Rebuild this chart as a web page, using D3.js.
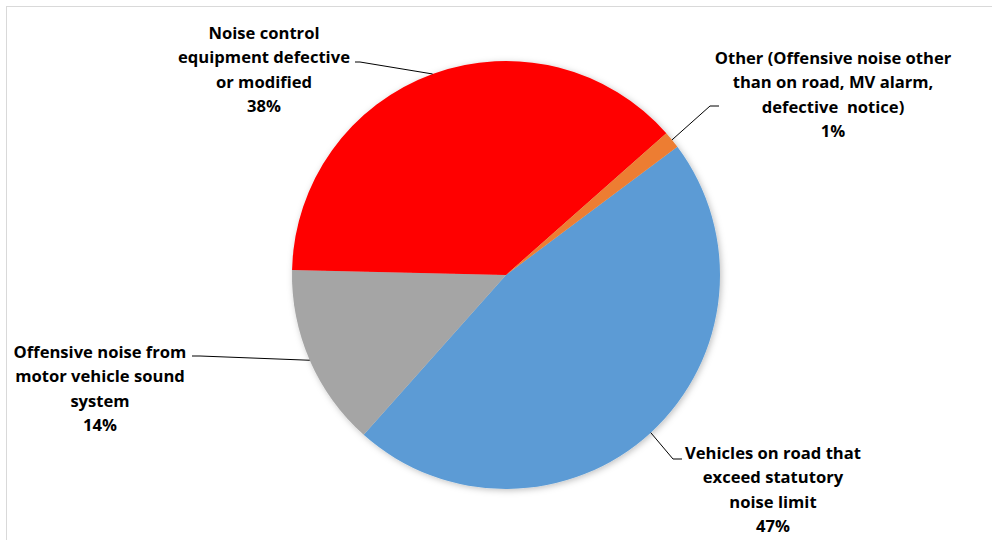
<!DOCTYPE html>
<html>
<head>
<meta charset="utf-8">
<script src="https://cdn.jsdelivr.net/npm/d3@7"></script>
<style>
  body { margin: 0; background: #fff; }
  text { font-family: "Open Sans", Lato, sans-serif; font-weight: 700; fill: #000; white-space: pre; }
</style>
</head>
<body>
<div id="chart"></div>
<script>
// data, clockwise from the first slice
const categories = [
  ["Vehicles on road that", "exceed statutory", "noise limit"],
  ["Offensive noise from", "motor vehicle sound", "system"],
  ["Noise control", "equipment defective", "or modified"],
  ["Other (Offensive noise other", "than on road, MV alarm,", "defective  notice)"]
];
const values = [46.8, 13.8, 38.1, 1.3];
const colors = ["#5B9BD5", "#A5A5A5", "#FF0000", "#ED7D31"];

// label placement (centre x, first line y) and leader elbows
const labelPos = [[773, 453], [100, 352], [264, 33], [833, 58]];
const elbows = [[[673, 459], [682, 459]], [[200, 356], [192, 356]], [[360, 62], [355, 62]], [[710, 106], [719, 106]]];

const width = 992, height = 540;
const cx = 506, cy = 275, r = 214;
const startDeg = 53.2;

const svg = d3.select('#chart').append('svg')
  .attr('width', width)
  .attr('height', height);

// chart frame
svg.append('rect')
  .attr('x', 6.5).attr('y', 6.5)
  .attr('width', width).attr('height', height)
  .attr('fill', 'none')
  .attr('stroke', '#d9d9d9');

const defs = svg.append('defs');
const f = defs.append('filter').attr('id', 'shadow')
  .attr('x', '-10%').attr('y', '-10%').attr('width', '120%').attr('height', '120%');
f.append('feDropShadow')
  .attr('dx', 1.5).attr('dy', 1.5)
  .attr('stdDeviation', 3)
  .attr('flood-color', '#000')
  .attr('flood-opacity', 0.25);

const pie = d3.pie()
  .sort(null)
  .value(d => d)
  .startAngle(startDeg * Math.PI / 180)
  .endAngle(startDeg * Math.PI / 180 + 2 * Math.PI);

const arcs = pie(values);
const arc = d3.arc().innerRadius(0).outerRadius(r);

const g = svg.append('g').attr('transform', 'translate(' + cx + ',' + cy + ')');

g.append('g').attr('filter', 'url(#shadow)')
  .selectAll('path')
  .data(arcs)
  .enter().append('path')
  .attr('d', arc)
  .attr('fill', (d, i) => colors[i]);

// leader lines
const line = d3.line();
svg.append('g')
  .selectAll('path')
  .data(arcs)
  .enter().append('path')
  .attr('fill', 'none')
  .attr('stroke', '#000')
  .attr('stroke-width', 1)
  .attr('d', (d, i) => {
    const a = (d.startAngle + d.endAngle) / 2;
    const p = [cx + r * Math.sin(a), cy - r * Math.cos(a)];
    return line([p].concat(elbows[i]));
  });

// labels
const labels = svg.append('g')
  .selectAll('text')
  .data(arcs)
  .enter().append('text')
  .attr('text-anchor', 'middle')
  .attr('font-size', 16.6)
  .attr('x', (d, i) => labelPos[i][0])
  .attr('y', (d, i) => labelPos[i][1]);

labels.each(function(d, i) {
  const lines = categories[i].concat([Math.round(d.data) + '%']);
  d3.select(this).selectAll('tspan')
    .data(lines)
    .enter().append('tspan')
    .attr('x', labelPos[i][0])
    .attr('dy', (t, k) => k === 0 ? '0.35em' : 24.5)
    .text(t => t);
});
</script>
</body>
</html>
